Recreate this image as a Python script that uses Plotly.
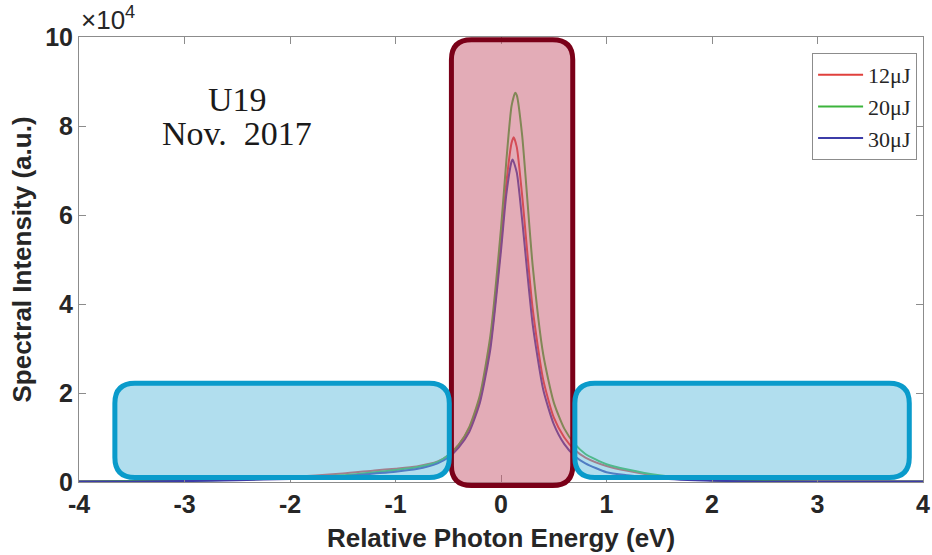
import plotly.graph_objects as go

# Photon energy grid (eV) and spectral intensity (units of 1e4 a.u.)
energy_12 = [-4.0, -3.5, -3.0, -2.5, -2.0, -1.5, -1.2, -1.0, -0.8, -0.6, -0.5, -0.4, -0.3, -0.2, -0.1,
             0.0, 0.05, 0.1, 0.12, 0.15, 0.2, 0.3, 0.4, 0.5, 0.6, 0.7, 0.8, 1.0, 1.2, 1.5, 2.0, 2.5, 3.0, 3.5, 4.0]
intensity_12 = [0.01, 0.02, 0.04, 0.07, 0.11, 0.19, 0.26, 0.30, 0.35, 0.46, 0.60, 0.84, 1.21, 1.87, 3.10,
                5.35, 6.70, 7.62, 7.75, 7.52, 6.45, 3.90, 2.30, 1.45, 1.00, 0.72, 0.55, 0.36, 0.25, 0.13, 0.04, 0.02, 0.01, 0.01, 0.01]

energy_20 = [-4.0, -3.5, -3.0, -2.5, -2.0, -1.5, -1.2, -1.0, -0.8, -0.6, -0.5, -0.4, -0.3, -0.2, -0.1,
             0.0, 0.05, 0.1, 0.135, 0.15, 0.2, 0.3, 0.4, 0.5, 0.6, 0.7, 0.8, 1.0, 1.2, 1.5, 2.0, 2.5, 3.0, 3.5, 4.0]
intensity_20 = [0.01, 0.02, 0.03, 0.05, 0.09, 0.15, 0.22, 0.27, 0.33, 0.45, 0.60, 0.84, 1.24, 1.95, 3.30,
                5.70, 7.20, 8.45, 8.75, 8.69, 7.80, 4.87, 2.87, 1.79, 1.20, 0.85, 0.63, 0.40, 0.28, 0.15, 0.04, 0.02, 0.01, 0.01, 0.01]

energy_30 = [-4.0, -3.5, -3.0, -2.5, -2.0, -1.5, -1.2, -1.0, -0.8, -0.6, -0.5, -0.4, -0.3, -0.2, -0.1,
             0.0, 0.05, 0.1, 0.11, 0.15, 0.2, 0.3, 0.4, 0.5, 0.6, 0.7, 0.8, 1.0, 1.2, 1.5, 2.0, 2.5, 3.0, 3.5, 4.0]
intensity_30 = [0.01, 0.01, 0.02, 0.04, 0.07, 0.13, 0.19, 0.23, 0.29, 0.42, 0.55, 0.78, 1.13, 1.78, 3.00,
                5.20, 6.45, 7.20, 7.25, 6.95, 5.90, 3.55, 2.08, 1.30, 0.85, 0.58, 0.42, 0.22, 0.15, 0.08, 0.03, 0.01, 0.01, 0.01, 0.01]

legend_labels = ["12μJ", "20μJ", "30μJ"]
series_colors = ["#e0403c", "#3cb43c", "#3c3ca8"]

x_ticks = [-4, -3, -2, -1, 0, 1, 2, 3, 4]
y_ticks = [0, 2, 4, 6, 8, 10]

X_RANGE = [-4, 4]
Y_RANGE = [0, 10]

# highlighted energy windows: (x0, x1, y0, y1) in axis units
central_window = (-0.47, 0.68, -0.08, 9.94)
side_windows = [(-3.66, -0.49, 0.10, 2.22), (0.70, 3.87, 0.10, 2.22)]

fig = go.Figure()
for xs, ys, lab, col in zip([energy_12, energy_20, energy_30],
                            [intensity_12, intensity_20, intensity_30],
                            legend_labels, series_colors):
    fig.add_trace(go.Scatter(x=xs, y=ys, mode="lines", name=lab,
                             line=dict(color=col, width=2, shape="spline", smoothing=0.6)))


def to_paper(x, y):
    px = (x - X_RANGE[0]) / (X_RANGE[1] - X_RANGE[0])
    py = (y - Y_RANGE[0]) / (Y_RANGE[1] - Y_RANGE[0])
    return px, py


def rounded_path(box, rx=0.0237, ry=0.045):
    x0, y0 = to_paper(box[0], box[2])
    x1, y1 = to_paper(box[1], box[3])
    return (f"M {x0+rx},{y0} L {x1-rx},{y0} Q {x1},{y0} {x1},{y0+ry} "
            f"L {x1},{y1-ry} Q {x1},{y1} {x1-rx},{y1} "
            f"L {x0+rx},{y1} Q {x0},{y1} {x0},{y1-ry} "
            f"L {x0},{y0+ry} Q {x0},{y0} {x0+rx},{y0} Z")


shapes = [dict(type="path", xref="paper", yref="paper", layer="above",
               path=rounded_path(central_window),
               fillcolor="rgba(200,90,112,0.5)",
               line=dict(color="#7a0018", width=5))]
for b in side_windows:
    shapes.append(dict(type="path", xref="paper", yref="paper", layer="above",
                       path=rounded_path(b),
                       fillcolor="rgba(100,190,222,0.5)",
                       line=dict(color="#0a9bcb", width=5)))

tick_font = dict(family="Liberation Sans", size=25, color="#262626")
title_font = dict(family="Liberation Sans", size=26, color="#262626")

fig.update_layout(
    width=932, height=555,
    margin=dict(l=79, r=9, t=37, b=73),
    paper_bgcolor="white", plot_bgcolor="white",
    shapes=shapes,
    showlegend=True,
    legend=dict(x=0.993, y=0.964, xanchor="right", yanchor="top",
                bgcolor="white", bordercolor="#8c8c8c", borderwidth=1,
                font=dict(family="Liberation Serif", size=22, color="#262626"),
                itemwidth=45, tracegroupgap=0),
    xaxis=dict(range=X_RANGE, tickvals=x_ticks, ticktext=[f"<b>{v}</b>" for v in x_ticks],
               automargin=False,
               showgrid=False, zeroline=False, showline=True, linecolor="#8c8c8c", linewidth=1,
               mirror="ticks", ticks="inside", ticklen=7, tickcolor="#8c8c8c",
               tickfont=tick_font,
               title=dict(text="<b>Relative Photon Energy (eV)</b>", font=title_font, standoff=11)),
    yaxis=dict(range=Y_RANGE, tickvals=y_ticks, ticktext=[f"<b>{v}</b>" for v in y_ticks],
               automargin=False,
               showgrid=False, zeroline=False, showline=True, linecolor="#8c8c8c", linewidth=1,
               mirror="ticks", ticks="inside", ticklen=7, tickcolor="#8c8c8c",
               tickfont=tick_font,
               title=dict(text="<b>Spectral Intensity (a.u.)</b>", font=title_font, standoff=6)),
    annotations=[
        dict(text="×10<sup>4</sup>", xref="paper", yref="paper", x=0.0, y=1.0,
             xanchor="left", yanchor="bottom", showarrow=False,
             font=dict(family="Liberation Sans", size=26, color="#262626")),
        dict(text="U19", xref="x", yref="y", x=-2.5, y=8.6, showarrow=False,
             font=dict(family="Liberation Serif", size=34, color="#1a1a1a")),
        dict(text="Nov.\u00a0 2017", xref="x", yref="y", x=-2.5, y=7.84, showarrow=False,
             font=dict(family="Liberation Serif", size=34, color="#1a1a1a")),
    ],
)

fig.write_html("out.html")
